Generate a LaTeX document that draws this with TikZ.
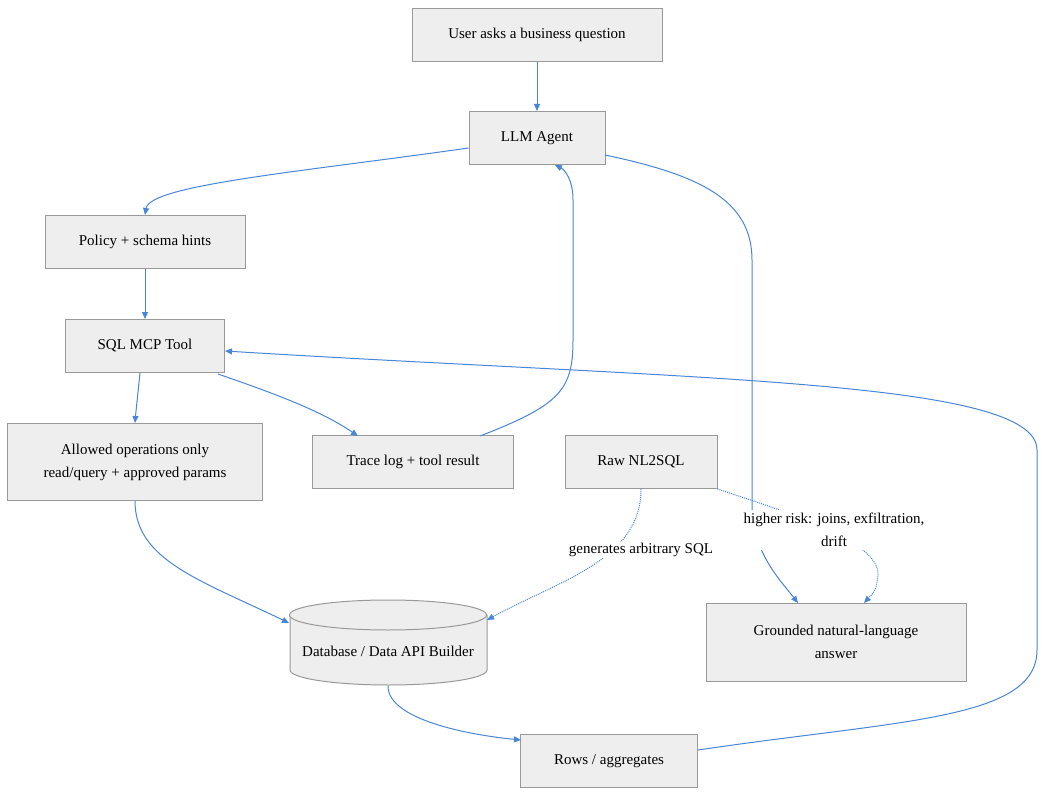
\documentclass[tikz,border=0pt]{standalone}
\usepackage{fontspec}
\setmainfont{Liberation Serif}
\usetikzlibrary{arrows.meta}
\definecolor{edgeblue}{HTML}{4A86D8}
\definecolor{boxfill}{HTML}{EEEEEE}
\definecolor{boxline}{HTML}{999999}
\begin{document}
\begin{tikzpicture}[x=1pt,y=-1pt,line width=1pt,
  box/.style={draw=boxline,fill=boxfill,minimum height=53pt,align=center,font=\fontsize{15}{23}\selectfont},
  flow/.style={edgeblue,-{Triangle[length=7pt,width=6pt]}},
  weak/.style={flow,densely dotted},
  tag/.style={fill=white,align=center,font=\fontsize{15}{23}\selectfont}]
\useasboundingbox (0,0) rectangle (1047,797);

\node[box,minimum width=250pt] (ask) at (537,35) {User asks a business question};
\node[box,minimum width=136pt] (agent) at (537,138) {LLM Agent};
\node[box,minimum width=200pt] (policy) at (145,242) {Policy + schema hints};
\node[box,minimum width=159pt] (tool) at (145,346) {SQL MCP Tool};
\node[box,minimum width=255pt,minimum height=77pt] (allowed) at (135,462) {Allowed operations only\\read/query + approved params};
\node[box,minimum width=201pt] (trace) at (413,462) {Trace log + tool result};
\node[box,minimum width=152pt] (raw) at (641,462) {Raw NL2SQL};
% cylinder
\draw[draw=boxline,fill=boxfill] (290,615) -- (290,670) arc[start angle=180,end angle=0,x radius=98.5,y radius=15] -- (487,615) -- cycle;
\draw[draw=boxline,fill=boxfill] (388,615) ellipse[x radius=98.5,y radius=15];
\node[box,draw=none,fill=none,minimum width=197pt,minimum height=85pt] (db) at (388,643) {};
\node[box,draw=none,fill=none] (dbtext) at (388,651) {Database / Data API Builder};
\node[box,minimum width=260pt,minimum height=78pt] (answer) at (836,642) {Grounded natural-language\\answer};
\node[box,minimum width=177pt] (rows) at (609,761) {Rows / aggregates};

% connectors
\draw[flow] (ask) -- (agent);
\draw[flow] (agent.west |- 0,148) .. controls (300,172) and (150,185) .. (policy.north);
\draw[flow] (policy) -- (tool);
\draw[flow] (140,373) .. controls (137,395) .. (allowed.north);
\draw[flow] (218,374) .. controls (270,392) and (320,410) .. (358,436);
\draw[flow] (480,436) .. controls (560,405) and (573,390) .. (573,340) -- (573,200) .. controls (573,180) and (565,170) .. (555,165);
\draw[flow] (605,155) .. controls (700,175) and (752,200) .. (752,260) -- (752,520) .. controls (760,560) and (780,580) .. (798,603);
\draw[flow] (allowed.south) .. controls (135,560) and (200,580) .. (db.west |- 0,623);
\draw[weak] (raw.south) .. controls (641,560) and (560,580) .. (487,620);
\draw[weak] (raw.south east) .. controls (780,510) and (880,540) .. (878,575) .. controls (876,590) .. (864,603);
\draw[flow] (db.south) .. controls (388,720) and (470,735) .. (521,740);
\draw[flow] (rows.east |- 0,750) .. controls (900,720) and (1037,720) .. (1037,650) -- (1037,450) .. controls (1037,380) and (700,380) .. (tool.east |- 0,351);

\node[tag] (risk) at (834,530) {higher risk: joins, exfiltration,\\drift};
\node[tag,inner sep=1pt] (gen) at (641,550) {generates arbitrary SQL};
\end{tikzpicture}
\end{document}
